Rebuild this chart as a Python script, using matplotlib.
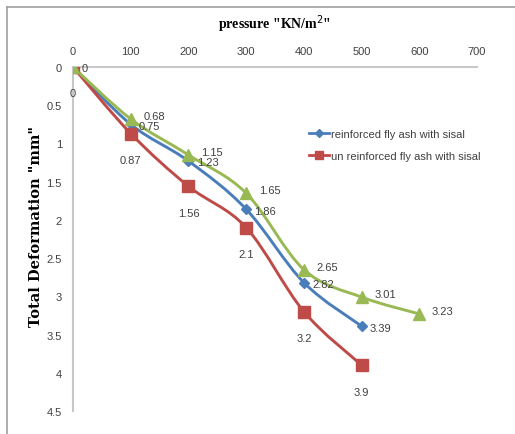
import matplotlib.pyplot as plt
from matplotlib.path import Path
from matplotlib.patches import PathPatch
from matplotlib.lines import Line2D

# data
pressure = [0, 100, 200, 300, 400, 500, 600]
reinforced = [0, 0.75, 1.23, 1.86, 2.82, 3.39]
unreinforced = [0, 0.87, 1.56, 2.1, 3.2, 3.9]
third = [0, 0.68, 1.15, 1.65, 2.65, 3.01, 3.23]
names = ["reinforced fly ash with sisal", "un reinforced fly ash with sisal"]
xticks = [0, 100, 200, 300, 400, 500, 600, 700]
yticks = [0, 0.5, 1, 1.5, 2, 2.5, 3, 3.5, 4, 4.5]

blue = "#4a7ebb"
red = "#be4b48"
green = "#98b954"
txtc = "#404040"
narrow = "Liberation Sans"


def smooth_path(xs, ys):
	# excel style smoothed line, bezier segments
	pts = list(zip(xs, ys))
	verts = [pts[0]]
	codes = [Path.MOVETO]
	n = len(pts)
	for i in range(n - 1):
		p0 = pts[i - 1] if i > 0 else pts[i]
		p1 = pts[i]
		p2 = pts[i + 1]
		p3 = pts[i + 2] if i + 2 < n else pts[i + 1]
		c1 = (p1[0] + (p2[0] - p0[0]) / 6, p1[1] + (p2[1] - p0[1]) / 6)
		c2 = (p2[0] - (p3[0] - p1[0]) / 6, p2[1] - (p3[1] - p1[1]) / 6)
		verts += [c1, c2, p2]
		codes += [Path.CURVE4] * 3
	return Path(verts, codes)


fig = plt.figure(figsize=(5.15, 4.35), dpi=100)
# outer chart border (left and top only visible)
bx = 7 / 515
by = 1 - 8 / 435
fig.add_artist(Line2D([bx, bx], [0, by], transform=fig.transFigure, color="#a0a0a0", lw=1.2))
fig.add_artist(Line2D([bx, 1], [by, by], transform=fig.transFigure, color="#a0a0a0", lw=1.2))

ax = fig.add_axes([73 / 515, 23 / 435, 404 / 515, 344 / 435])

series = [
	(reinforced, blue, "D", 5, names[0]),
	(unreinforced, red, "s", 8, names[1]),
	(third, green, "^", 8, None),
]
for ys, col, mk, ms, lab in series:
	xs = pressure[:len(ys)]
	ax.add_patch(PathPatch(smooth_path(xs, ys), fill=False, edgecolor=col, lw=2.1, zorder=2))
	ax.plot(xs, ys, ls="none", marker=mk, ms=ms, color=col, zorder=3)

# data labels
for x, y in zip(pressure, reinforced):
	ax.annotate(str(y) if y else "0", (x, y), xytext=(6, -1), textcoords="offset points",
		fontsize=8, family=narrow, color=txtc, va="center", ha="left")
for x, y in zip(pressure, unreinforced):
	ax.annotate(str(y) if y else "0", (x, y), xytext=(0, -19), textcoords="offset points",
		fontsize=8, family=narrow, color=txtc, va="center", ha="center")
for x, y in zip(pressure[1:], third[1:]):
	ax.annotate(str(y), (x, y), xytext=(9, 2), textcoords="offset points",
		fontsize=8, family=narrow, color=txtc, va="center", ha="left")

ax.set_xlim(0, 700)
ax.set_ylim(4.5, 0)
ax.set_xticks(xticks)
ax.set_yticks(yticks)
ax.set_yticklabels([("%g" % v) for v in yticks])
ax.xaxis.tick_top()
ax.xaxis.set_label_position("top")
ax.tick_params(length=0, labelsize=8, labelcolor=txtc, pad=8)
for lbl in ax.get_xticklabels() + ax.get_yticklabels():
	lbl.set_family(narrow)
for s in ["right", "bottom"]:
	ax.spines[s].set_visible(False)
ax.spines["top"].set_color("#c8c8c8")
ax.spines["left"].set_color("#c8c8c8")
ax.spines["top"].set_linewidth(1.5)
ax.spines["left"].set_linewidth(1.5)
ax.set_xlabel('pressure "KN/m$^{2}$"', fontsize=10, fontweight="bold", family="Liberation Serif", labelpad=13)
ax.set_ylabel('Total Deformation "mm"', fontsize=10.5, fontweight="bold", family="DejaVu Serif")
ax.yaxis.set_label_coords(-0.075, 0.54)
ax.set_facecolor("none")

handles = [Line2D([], [], color=blue, marker="D", ms=4, lw=2),
	Line2D([], [], color=red, marker="s", ms=6, lw=2)]
leg = ax.legend(handles, names, loc="upper left", bbox_to_anchor=(0.56, 0.85), frameon=False,
	prop={"family": narrow, "size": 8}, handlelength=1.8, handletextpad=0.2, labelspacing=1.1)
for t in leg.get_texts():
	t.set_color(txtc)

fig.savefig("out.png", dpi=100)
